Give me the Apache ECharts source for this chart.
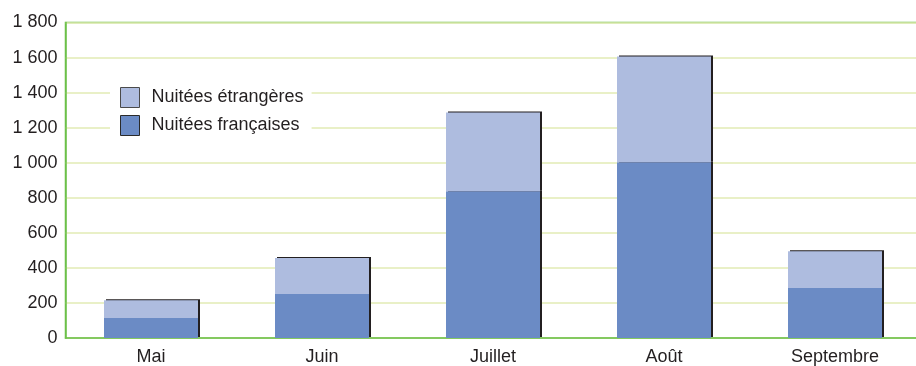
<!DOCTYPE html>
<html><head><meta charset="utf-8">
<script src="https://cdn.jsdelivr.net/npm/echarts@6/dist/echarts.min.js"></script>
<style>html,body{margin:0;padding:0;background:#fff;overflow:hidden;width:916px;height:366px}#c{width:926px;height:366px}</style>
</head><body><div id="c"></div>
<script>
const categories = ['Mai', 'Juin', 'Juillet', 'Août', 'Septembre'];
const nuiteesFrancaises = [114, 251, 837, 1002, 285];
const nuiteesEtrangeres = [102, 205, 450, 604, 210];
const seriesNames = ['Nuitées françaises', 'Nuitées étrangères'];

const chart = echarts.init(document.getElementById('c'), null, {renderer: 'canvas'});
const shadow = {shadowColor: '#231f20', shadowBlur: 0, shadowOffsetX: 2, shadowOffsetY: -1};
chart.setOption({
  animation: false,
  textStyle: {fontFamily: 'Liberation Sans, Arial, sans-serif'},
  grid: {left: 65.5, top: 22.5, width: 855, height: 315.5, show: true, borderColor: '#6cc04a', borderWidth: 1.5, backgroundColor: 'transparent'},
  legend: {
    orient: 'vertical', left: 110, top: 85, padding: [2, 8, 2, 10],
    backgroundColor: '#fff', itemWidth: 19, itemHeight: 20, itemGap: 7,
    textStyle: {fontSize: 18, color: '#231f20', padding: [0, 0, 0, 7]},
    data: [
      {name: seriesNames[1], icon: 'rect', itemStyle: {borderColor: '#4a4a4a', borderWidth: 1}},
      {name: seriesNames[0], icon: 'rect', itemStyle: {borderColor: '#2a2a2a', borderWidth: 1}}
    ]
  },
  xAxis: {
    type: 'category', data: categories,
    axisLine: {show: true, lineStyle: {color: '#6cc04a', width: 1.5}},
    axisTick: {show: false},
    axisLabel: {fontSize: 18, color: '#231f20', margin: 10}
  },
  yAxis: {
    type: 'value', min: 0, max: 1800, interval: 200,
    axisLine: {show: true, lineStyle: {color: '#6cc04a', width: 1.5}},
    axisTick: {show: false},
    splitLine: {lineStyle: {color: '#e2ebb4', width: 1.5}},
    axisLabel: {fontSize: 18, color: '#231f20', margin: 8,
      formatter: v => String(v).replace(/\B(?=(\d{3})+(?!\d))/g, ' ')}
  },
  series: [
    {name: seriesNames[0], type: 'bar', stack: 't', data: nuiteesFrancaises, barWidth: 94,
     itemStyle: Object.assign({color: '#6b8bc5'}, shadow)},
    {name: seriesNames[1], type: 'bar', stack: 't', data: nuiteesEtrangeres, barWidth: 94,
     itemStyle: Object.assign({color: '#aebcdf'}, shadow)}
  ]
});
</script></body></html>
